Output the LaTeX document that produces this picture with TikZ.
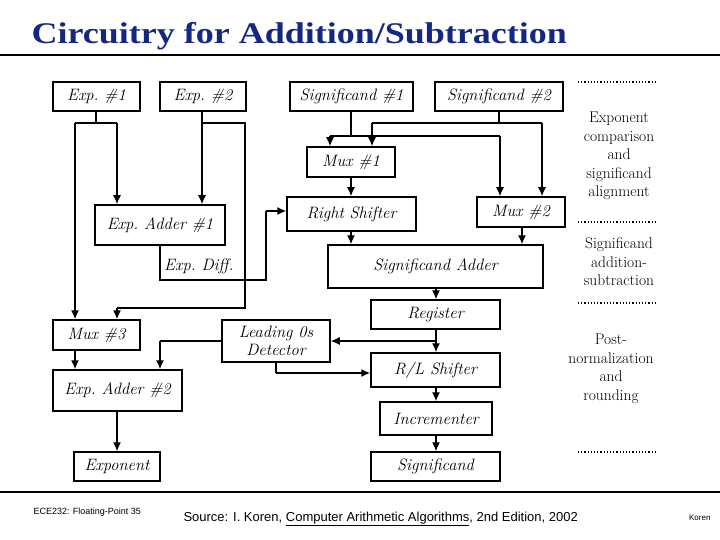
\documentclass[tikz,border=0pt]{standalone}
\usepackage{fontspec}
\newfontfamily\lib{Liberation Sans}
\newfontfamily\titlef[FakeStretch=1.2]{Liberation Serif}
\usetikzlibrary{arrows.meta}
\definecolor{navy}{RGB}{20,40,130}
\begin{document}
\begin{tikzpicture}[x=1pt,y=-1pt,
 bx/.style={draw,line width=1.5pt,font=\fontsize{16.5}{17}\selectfont\itshape},
 ar/.style={line width=1.3pt,-{Latex[length=9pt,width=8pt]}},
 ln/.style={line width=1.3pt},
 nt/.style={font=\fontsize{15.5}{18.5}\selectfont,align=center},
 dl/.style={dotted,line width=1.2pt}]
\useasboundingbox (0,0) rectangle (720,540);
\node[font=\titlef\bfseries\fontsize{30}{32}\selectfont,text=navy,anchor=base west] (title) at (28,44) {Circuitry for Addition/Subtraction};
\draw[line width=2pt] (0,55) -- (720,55);
\draw[line width=2pt] (0,492) -- (720,492);
\newcommand\bxat[6]{\node[bx,minimum width=#4-#2,minimum height=#5-#3,inner sep=0pt] (#1) at ({(#2+#4)/2},{(#3+#5)/2}) {#6};}
\bxat{e1}{53}{82}{140}{111}{Exp.\ \#1}
\bxat{e2}{160}{82}{246}{111}{Exp.\ \#2}
\bxat{s1}{290}{82}{413}{111}{Significand \#1}
\bxat{s2}{435}{82}{563}{111}{Significand \#2}
\bxat{m1}{307}{147}{395}{177}{Mux \#1}
\bxat{rs}{287}{197}{416}{231}{Right Shifter}
\bxat{m2}{477}{197}{565}{227}{Mux \#2}
\bxat{a1}{95}{205}{225}{245}{Exp.\ Adder \#1}
\bxat{sa}{328}{245}{543}{288}{Significand Adder}
\bxat{m3}{53}{320}{140}{350}{Mux \#3}
\bxat{a2}{53}{370}{182}{411}{Exp.\ Adder \#2}
\bxat{ex}{74}{452}{160}{481}{Exponent}
\bxat{ld}{222}{320}{330}{362}{\shortstack{Leading 0s\\Detector}}
\bxat{rg}{371}{300}{500}{329}{Register}
\bxat{rl}{371}{353}{500}{387}{R/L Shifter}
\bxat{inc}{380}{402}{492}{435}{Incrementer}
\bxat{sg}{371}{452}{500}{481}{Significand}
\node[font=\fontsize{16.5}{17}\selectfont\itshape,anchor=west,inner sep=1pt] (ed) at (163,266) {Exp.\ Diff.};
\draw[ln] (e1.south -| 96,0) -- (96,123);
\draw[ln] (75,123) -- (117,123);
\draw[ar] (117,123) -- (a1.north -| 117,0);
\draw[ar] (75,123) -- (m3.north -| 75,0);
\draw[ln] (e2.south -| 202,0) -- (202,123) -- (245,123) -- (245,308) -- (117,308);
\draw[ar] (117,308) -- (m3.north -| 117,0);
\draw[ar] (202,123) -- (a1.north -| 202,0);
\draw[ln] (a1.south -| 160,0) -- (160,280) -- (266,280) -- (266,211);
\draw[ar] (266,211) -- (rs.west |- 0,211);
\draw[ar] (m3.south -| 75,0) -- (a2.north -| 75,0);
\draw[ar] (a2.south -| 117,0) -- (ex.north -| 117,0);
\draw[ln] (s1.south -| 351,0) -- (351,136);
\draw[ln] (330,136) -- (500,136);
\draw[ar] (330,136) -- (m1.north -| 330,0);
\draw[ar] (500,136) -- (m2.north -| 500,0);
\draw[ln] (s2.south -| 499,0) -- (499,123);
\draw[ln] (372,123) -- (542,123);
\draw[ar] (372,123) -- (m1.north -| 372,0);
\draw[ar] (542,123) -- (m2.north -| 542,0);
\draw[ar] (m1.south -| 351,0) -- (rs.north -| 351,0);
\draw[ar] (rs.south -| 351,0) -- (sa.north -| 351,0);
\draw[ar] (m2.south -| 522,0) -- (sa.north -| 522,0);
\draw[ar] (sa.south -| 436,0) -- (rg.north -| 436,0);
\draw[ar] (rg.south -| 436,0) -- (rl.north -| 436,0);
\draw[ar] (436,341) -- (ld.east |- 0,341);
\draw[ln] (ld.west |- 0,341) -- (160,341);
\draw[ar] (160,341) -- (a2.north -| 160,0);
\draw[ln] (ld.south -| 276,0) -- (276,373);
\draw[ar] (276,373) -- (rl.west |- 0,373);
\draw[ar] (rl.south -| 436,0) -- (inc.north -| 436,0);
\draw[ar] (inc.south -| 436,0) -- (sg.north -| 436,0);
\draw[dl] (578,82) -- (655,82);
\draw[dl] (578,222) -- (655,222);
\draw[dl] (578,303) -- (655,303);
\draw[dl] (578,452) -- (655,452);
\node[nt] (n1) at (619,156) {Exponent\\comparison\\and\\significand\\alignment};
\node[nt] (n2) at (619,262) {Significand\\addition-\\subtraction};
\node[nt] (n3) at (611,369) {Post-\\normalization\\and\\rounding};
\node[font=\lib\fontsize{9}{10}\selectfont,anchor=west] (f1) at (30,512) {ECE232: Floating-Point 35};
\node[font=\lib\fontsize{13}{14}\selectfont,anchor=west] (f2) at (180,519) {Source: I. Koren, \underline{Computer Arithmetic Algorithms}, 2nd Edition, 2002};
\node[font=\lib\fontsize{8}{9}\selectfont,anchor=east] (f3) at (714,518) {Koren};
\end{tikzpicture}
\end{document}
